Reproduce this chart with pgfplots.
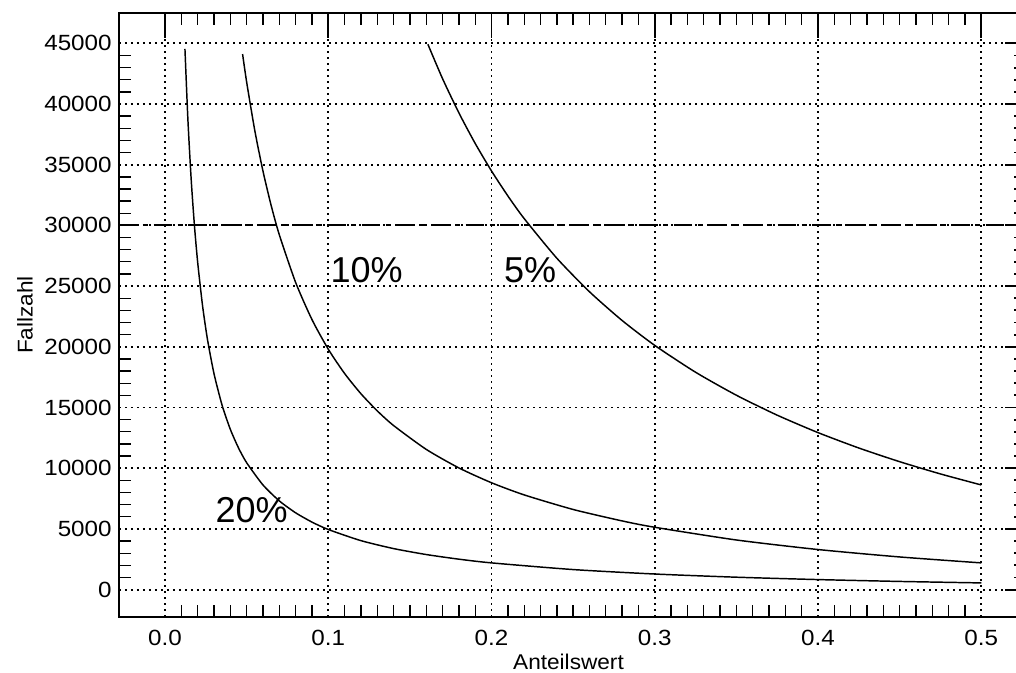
\documentclass[border=0pt]{standalone}
\usepackage{pgfplots}
\pgfplotsset{compat=1.18}
\usepackage{fontspec}
\setmainfont{Liberation Sans}
\newfontfamily\widefont[FakeStretch=1.06]{Liberation Sans}
\newfontfamily\tickfont[FakeStretch=1.1]{Liberation Sans}
\begin{document}
\begin{tikzpicture}
\begin{axis}[
  scale only axis, width=674.25pt, height=453pt,
  xmin=-0.0282, xmax=0.5225, ymin=-2257, ymax=47496,
  xtick={0,0.1,0.2,0.3,0.4,0.5}, xticklabels={0.0,0.1,0.2,0.3,0.4,0.5},
  ytick={0,5000,10000,15000,20000,25000,30000,35000,40000,45000},
  yticklabels={0,5000,10000,15000,20000,25000,30000,35000,40000,45000},
  minor x tick num=9, minor y tick num=4,
  xtick pos=both, ytick pos=left,
  tick align=inside,
  major tick length=0pt, minor tick length=9pt,
  every tick/.style={black, line width=1pt},
  axis line style={black, line width=1.3pt},
  grid=major,
  major grid style={black, line width=1.4pt, dash pattern=on 1.4pt off 3.1pt},
  ticklabel style={font=\tickfont\fontsize{16.5}{19}\selectfont},
  yticklabel style={xshift=-2pt},
  xticklabel style={yshift=-6pt},
  xlabel={Anteilswert}, ylabel={Fallzahl},
  every axis y label/.style={at={(axis description cs:-0.1046,0.5)}, rotate=90, anchor=center, font=\widefont\fontsize{16}{19}\selectfont},
  every axis x label/.style={at={(axis description cs:0.5,-0.0745)}, anchor=center, font=\widefont\fontsize{16}{19}\selectfont},
  clip=false,
]
\coordinate (SW) at (rel axis cs:0,0);
\coordinate (NE) at (rel axis cs:1,1);
\addplot[black, line width=1.5pt, dash pattern=on 14pt off 4pt on 4pt off 4pt] coordinates {(-0.0282,30000) (0.5225,30000)};
% 20%
\addplot[black, line width=1.1pt, smooth, tension=0.4] coordinates {
(0.0122,44532) (0.014,38736) (0.016,33825) (0.018,30006) (0.02,26950) (0.023,23363)
(0.026,20604) (0.03,17783) (0.035,15164) (0.04,13200) (0.045,11672) (0.05,10450)
(0.06,8617) (0.07,7307) (0.08,6325) (0.09,5561) (0.1,4950) (0.12,4033) (0.14,3379)
(0.16,2888) (0.18,2506) (0.2,2200) (0.25,1650) (0.3,1283) (0.35,1021) (0.4,825)
(0.45,672) (0.5,550)};
% 10%
\addplot[black, line width=1.1pt, smooth, tension=0.4] coordinates {
(0.0475,44116) (0.05,41800) (0.055,37800) (0.06,34467) (0.065,31646) (0.07,29229)
(0.08,25300) (0.09,22244) (0.1,19800) (0.11,17800) (0.12,16133) (0.13,14723)
(0.14,13514) (0.16,11550) (0.18,10022) (0.2,8800) (0.22,7800) (0.25,6600)
(0.28,5657) (0.3,5133) (0.35,4086) (0.4,3300) (0.45,2689) (0.5,2200)};
% 5%
\addplot[black, line width=1.1pt, smooth, tension=0.4] coordinates {
(0.161,44921) (0.17,42086) (0.18,39269) (0.19,36748) (0.2,34480) (0.21,32428)
(0.22,30562) (0.24,27297) (0.26,24534) (0.28,22166) (0.3,20113) (0.325,17903)
(0.35,16009) (0.375,14367) (0.4,12930) (0.425,11662) (0.45,10536) (0.475,9527)
(0.5,8620)};
\node[font=\fontsize{27}{30}\selectfont, inner sep=0pt] at (axis cs:0.2236,26330) {5\%};
\node[font=\fontsize{27}{30}\selectfont, inner sep=0pt] at (axis cs:0.1235,26330) {10\%};
\node[font=\fontsize{27}{30}\selectfont, inner sep=0pt] at (axis cs:0.0531,6557) {20\%};
\end{axis}
% top major ticks
\begin{axis}[
  scale only axis, width=674.25pt, height=453pt,
  xmin=-0.0282, xmax=0.5225, ymin=-2257, ymax=47496,
  axis x line*=top, axis y line=none,
  xtick={0,0.1,0.2,0.3,0.4,0.5}, xticklabels={},
  tick align=inside, major tick length=18.75pt,
  every tick/.style={black, line width=1.2pt},
  axis line style={black, line width=1.3pt},
]
\end{axis}
% right major ticks
\begin{axis}[
  scale only axis, width=674.25pt, height=453pt,
  xmin=-0.0282, xmax=0.5225, ymin=-2257, ymax=47496,
  axis y line*=right, axis x line=none,
  ytick={0,5000,10000,15000,20000,25000,30000,35000,40000,45000}, yticklabels={},
  minor y tick num=4,
  tick align=inside, major tick length=10pt, minor tick length=3pt,
  every tick/.style={black, line width=1.4pt},
  axis line style={black, line width=1.3pt},
]
\end{axis}
\pgfresetboundingbox
\path ([shift={(-89.25pt,-42pt)}]SW) rectangle ([shift={(-1.5pt,9.75pt)}]NE);
\end{tikzpicture}
\end{document}
